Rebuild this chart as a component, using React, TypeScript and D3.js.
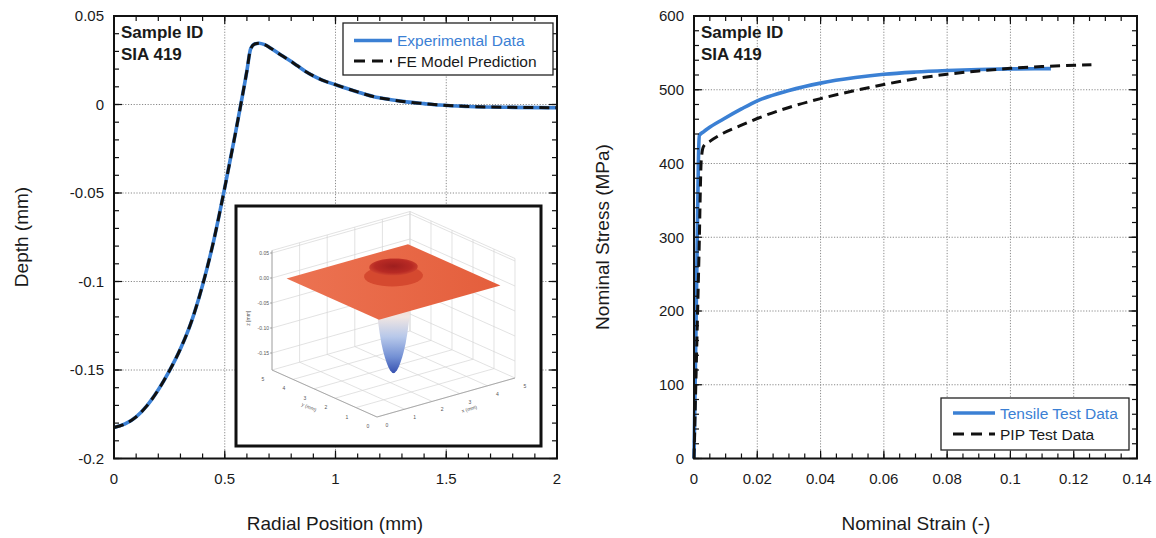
import React from "react";
import * as d3 from "d3";

// ---------- Data ----------
const radialPosition = [0, 0.05, 0.1, 0.15, 0.2, 0.25, 0.3, 0.35, 0.4, 0.45, 0.5, 0.55, 0.6, 0.617, 0.635, 0.655, 0.68, 0.715, 0.75, 0.79, 0.83, 0.865, 0.9, 0.94, 1.0, 1.1, 1.17, 1.25, 1.32, 1.4, 1.47, 1.6, 1.8, 2.0];
const depthExperimental = [-0.1825, -0.1805, -0.1765, -0.17, -0.1612, -0.1505, -0.138, -0.1225, -0.102, -0.077, -0.047, -0.015, 0.019, 0.0315, 0.0342, 0.0346, 0.0338, 0.0312, 0.0283, 0.0251, 0.0217, 0.0187, 0.0162, 0.0138, 0.0112, 0.0071, 0.0045, 0.0027, 0.0015, 0.0005, -0.0003, -0.0011, -0.0016, -0.0018];
const depthFEModel = [-0.1825, -0.1805, -0.1765, -0.17, -0.1612, -0.1505, -0.138, -0.1225, -0.102, -0.077, -0.047, -0.015, 0.019, 0.0315, 0.0342, 0.0346, 0.0338, 0.0312, 0.0283, 0.0251, 0.0217, 0.0187, 0.0162, 0.0138, 0.0112, 0.0071, 0.0045, 0.0027, 0.0015, 0.0005, -0.0003, -0.0011, -0.0016, -0.0018];

const tensileStrain = [0, 0.0005, 0.001, 0.0014, 0.0017, 0.003, 0.0044, 0.0092, 0.015, 0.02, 0.03, 0.04, 0.051, 0.06, 0.07, 0.08, 0.09, 0.1, 0.1128];
const tensileStress = [0, 140, 290, 405, 438, 443, 447.5, 460, 474, 485, 499, 509, 516.5, 521, 524, 526, 527.5, 528.3, 528.6];
const pipStrain = [0, 0.0008, 0.0016, 0.0023, 0.003, 0.005, 0.0092, 0.015, 0.02, 0.03, 0.04, 0.051, 0.06, 0.07, 0.08, 0.09, 0.1, 0.11, 0.1256];
const pipStress = [0, 140, 280, 405, 423, 430, 441, 452, 461, 476, 488, 499, 507, 515, 521, 525.5, 529, 531.5, 534];

const leftXTicks = [0, 0.5, 1, 1.5, 2];
const leftXLabels = ["0", "0.5", "1", "1.5", "2"];
const leftYTicks = [0.05, 0, -0.05, -0.1, -0.15, -0.2];
const leftYLabels = ["0.05", "0", "-0.05", "-0.1", "-0.15", "-0.2"];
const rightXTicks = [0, 0.02, 0.04, 0.06, 0.08, 0.1, 0.12, 0.14];
const rightXLabels = ["0", "0.02", "0.04", "0.06", "0.08", "0.1", "0.12", "0.14"];
const rightYTicks = [0, 100, 200, 300, 400, 500, 600];
const rightYLabels = ["0", "100", "200", "300", "400", "500", "600"];

const insetZTicks = [0.05, 0, -0.05, -0.1, -0.15];
const insetZLabels = ["0.05", "0.00", "-0.05", "-0.10", "-0.15"];
const insetXYTicks = [0, 1, 2, 3, 4, 5];

const sampleLines = ["Sample ID", "SIA 419"];
const leftLegend = ["Experimental Data", "FE Model Prediction"];
const rightLegend = ["Tensile Test Data", "PIP Test Data"];

// ---------- Style ----------
const FONT = "'Liberation Sans', Arial, Helvetica, sans-serif";
const BLUE = "#3b80d4";
const TEXT = "#1a1a1a";

type Scale = d3.ScaleLinear<number, number>;

function Grid({ x, y, xTicks, yTicks }: { x: Scale; y: Scale; xTicks: number[]; yTicks: number[] }) {
  const [xa, xb] = x.range();
  const [ya, yb] = y.range();
  const xd = x.domain();
  const yd = y.domain();
  return (
    <g stroke="#8a8a8a" strokeWidth={1} strokeDasharray="1.2,1.6" fill="none">
      {xTicks.filter((v) => v !== xd[0] && v !== xd[1]).map((v, i) => (
        <line key={"gx" + i} x1={x(v)} x2={x(v)} y1={ya} y2={yb} />
      ))}
      {yTicks.filter((v) => v !== yd[0] && v !== yd[1]).map((v, i) => (
        <line key={"gy" + i} x1={xa} x2={xb} y1={y(v)} y2={y(v)} />
      ))}
    </g>
  );
}

function Frame({
  x, y, xTicks, xLabels, yTicks, yLabels, xMinorStep, yMinorStep,
}: {
  x: Scale; y: Scale; xTicks: number[]; xLabels: string[]; yTicks: number[]; yLabels: string[]; xMinorStep: number; yMinorStep: number;
}) {
  const [xa, xb] = x.range();
  const [ya, yb] = y.range();
  const xd = x.domain();
  const yd = y.domain();
  const yLo = Math.min(yd[0], yd[1]);
  const yHi = Math.max(yd[0], yd[1]);
  const xMinor = d3.range(xd[0], xd[1] + xMinorStep / 2, xMinorStep);
  const yMinor = d3.range(yLo, yHi + yMinorStep / 2, yMinorStep);
  const maj = 8;
  const min = 5;
  return (
    <g>
      <g stroke="#111" strokeWidth={1.2}>
        {xMinor.map((v, i) => (
          <g key={"xm" + i}>
            <line x1={x(v)} x2={x(v)} y1={ya} y2={ya - min} />
            <line x1={x(v)} x2={x(v)} y1={yb} y2={yb + min} />
          </g>
        ))}
        {yMinor.map((v, i) => (
          <g key={"ym" + i}>
            <line x1={xa} x2={xa + min} y1={y(v)} y2={y(v)} />
            <line x1={xb} x2={xb - min} y1={y(v)} y2={y(v)} />
          </g>
        ))}
        {xTicks.map((v, i) => (
          <g key={"xM" + i}>
            <line x1={x(v)} x2={x(v)} y1={ya} y2={ya - maj} />
            <line x1={x(v)} x2={x(v)} y1={yb} y2={yb + maj} />
          </g>
        ))}
        {yTicks.map((v, i) => (
          <g key={"yM" + i}>
            <line x1={xa} x2={xa + maj} y1={y(v)} y2={y(v)} />
            <line x1={xb} x2={xb - maj} y1={y(v)} y2={y(v)} />
          </g>
        ))}
      </g>
      <rect x={xa} y={yb} width={xb - xa} height={ya - yb} fill="none" stroke="#111" strokeWidth={2} />
      <g fontFamily={FONT} fontSize={15} fill={TEXT}>
        {xTicks.map((v, i) => (
          <text key={"xl" + i} x={x(v)} y={484} textAnchor="middle">{xLabels[i]}</text>
        ))}
        {yTicks.map((v, i) => (
          <text key={"yl" + i} x={xa - 10} y={y(v)} dy="0.36em" textAnchor="end">{yLabels[i]}</text>
        ))}
      </g>
    </g>
  );
}

// ---------- Inset: 3-D view of the indentation profile ----------
function Inset() {
  const box = { x: 236, y: 206, w: 305, h: 240 };
  const origin = [377, 417];
  const ex = [27.6, -7.8];
  const ey = [-21, -9.4];
  const zScale = 500;
  const zFloor = -0.184;
  const zTop = 0.055;
  const proj = (px: number, py: number, pz: number): [number, number] => [
    origin[0] + px * ex[0] + py * ey[0],
    origin[1] + px * ex[1] + py * ey[1] - (pz - zFloor) * zScale,
  ];
  const pts = (arr: [number, number][]) => arr.map((p) => p.join(",")).join(" ");
  const gridColor = "#d6d6d6";
  const lines: JSX.Element[] = [];
  insetXYTicks.forEach((v, i) => {
    const a = proj(v, 5, zFloor), b = proj(v, 5, zTop);
    lines.push(<line key={"wl" + i} x1={a[0]} y1={a[1]} x2={b[0]} y2={b[1]} />);
  });
  insetZTicks.concat([zTop]).forEach((z, i) => {
    const a = proj(0, 5, z), b = proj(5, 5, z);
    lines.push(<line key={"wlz" + i} x1={a[0]} y1={a[1]} x2={b[0]} y2={b[1]} />);
  });
  insetXYTicks.forEach((v, i) => {
    const a = proj(5, v, zFloor), b = proj(5, v, zTop);
    lines.push(<line key={"wr" + i} x1={a[0]} y1={a[1]} x2={b[0]} y2={b[1]} />);
  });
  insetZTicks.concat([zTop]).forEach((z, i) => {
    const a = proj(5, 0, z), b = proj(5, 5, z);
    lines.push(<line key={"wrz" + i} x1={a[0]} y1={a[1]} x2={b[0]} y2={b[1]} />);
  });
  insetXYTicks.forEach((v, i) => {
    const a = proj(v, 0, zFloor), b = proj(v, 5, zFloor);
    const c = proj(0, v, zFloor), d = proj(5, v, zFloor);
    lines.push(<line key={"fx" + i} x1={a[0]} y1={a[1]} x2={b[0]} y2={b[1]} />);
    lines.push(<line key={"fy" + i} x1={c[0]} y1={c[1]} x2={d[0]} y2={d[1]} />);
  });

  const s0 = 0.3, s1 = 4.7;
  const plane = [proj(s0, s0, 0), proj(s1, s0, 0), proj(s1, s1, 0), proj(s0, s1, 0)];

  const c = 2.5;
  const centerFloor = proj(c, c, zFloor);
  const halfW = Math.hypot(ex[0], ey[0]);
  const zToY = (z: number) => centerFloor[1] - (z - zFloor) * zScale;
  const cone: [number, number][] = [];
  const inner = radialPosition.map((r, i) => ({ r, d: depthExperimental[i] })).filter((p) => p.d < 0 && p.r < 0.6);
  [...inner].reverse().forEach((p) => cone.push([centerFloor[0] - p.r * halfW, zToY(p.d)]));
  inner.forEach((p) => cone.push([centerFloor[0] + p.r * halfW, zToY(p.d)]));

  const ring = (r: number, z: number) =>
    d3.range(0, 360, 10).map((a) => proj(c + r * Math.cos((a * Math.PI) / 180), c + r * Math.sin((a * Math.PI) / 180), z));

  const axisCorner0 = proj(0, 5, zFloor);
  const axisCorner1 = proj(0, 5, zTop);
  const front = proj(0, 0, zFloor);
  const leftC = proj(0, 5, zFloor);
  const rightC = proj(5, 0, zFloor);

  return (
    <g>
      <defs>
        <linearGradient id="coneGrad" x1="0" y1={zToY(0)} x2="0" y2={zToY(-0.183)} gradientUnits="userSpaceOnUse">
          <stop offset="0" stopColor="#f2b79c" />
          <stop offset="0.38" stopColor="#f1e6e2" />
          <stop offset="0.6" stopColor="#b7c8ea" />
          <stop offset="0.82" stopColor="#7390d4" />
          <stop offset="1" stopColor="#3550b0" />
        </linearGradient>
        <linearGradient id="planeGrad" x1="0" y1="0" x2="1" y2="0">
          <stop offset="0" stopColor="#ec7352" />
          <stop offset="1" stopColor="#e45e3c" />
        </linearGradient>
        <radialGradient id="bumpGrad" cx="0.5" cy="0.45" r="0.55">
          <stop offset="0" stopColor="#9e1e1e" />
          <stop offset="0.7" stopColor="#b82a24" />
          <stop offset="1" stopColor="#d04530" />
        </radialGradient>
        <clipPath id="insetClip">
          <rect x={box.x} y={box.y} width={box.w} height={box.h} />
        </clipPath>
      </defs>
      <rect x={box.x} y={box.y} width={box.w} height={box.h} fill="#fff" />
      <g clipPath="url(#insetClip)">
        <g stroke={gridColor} strokeWidth={0.7}>{lines}</g>
        <g stroke="#9a9a9a" strokeWidth={0.8} fill="none">
          <line x1={axisCorner0[0]} y1={axisCorner0[1]} x2={axisCorner1[0]} y2={axisCorner1[1]} />
          <polyline points={pts([leftC, front, rightC])} />
        </g>
        {insetZTicks.map((z, i) => {
          const p = proj(0, 5, z);
          return (
            <g key={"zt" + i}>
              <line x1={p[0] - 2} x2={p[0]} y1={p[1]} y2={p[1]} stroke="#777" strokeWidth={0.6} />
              <text x={p[0] - 3} y={p[1]} dy="0.35em" textAnchor="end" fontFamily={FONT} fontSize={5} fill="#555">{insetZLabels[i]}</text>
            </g>
          );
        })}
        <text transform={`translate(${axisCorner0[0] - 22},${(axisCorner0[1] + axisCorner1[1]) / 2 + 8}) rotate(-90)`} textAnchor="middle" fontFamily={FONT} fontSize={5} fill="#555">z [mm]</text>
        {insetXYTicks.map((v, i) => {
          const p = proj(0, v, zFloor);
          const q = proj(v, 0, zFloor);
          return (
            <g key={"xy" + i} fontFamily={FONT} fontSize={5} fill="#555" textAnchor="middle">
              <text x={p[0] - 9} y={p[1] + 11}>{v}</text>
              <text x={q[0] + 10} y={q[1] + 10}>{v}</text>
            </g>
          );
        })}
        <text transform={`translate(${proj(0, 2.6, zFloor)[0] - 14},${proj(0, 2.6, zFloor)[1] + 16}) rotate(24)`} textAnchor="middle" fontFamily={FONT} fontSize={5} fill="#555">y (mm)</text>
        <text transform={`translate(${proj(3.0, 0, zFloor)[0] + 10},${proj(3.0, 0, zFloor)[1] + 17}) rotate(-16)`} textAnchor="middle" fontFamily={FONT} fontSize={5} fill="#555">x (mm)</text>

        <polygon points={pts(cone)} fill="url(#coneGrad)" />
        <polygon points={pts(plane)} fill="url(#planeGrad)" />
        <polygon points={pts(ring(0.85, 0.012))} fill="#d5492f" />
        <polygon points={pts(ring(0.7, 0.03))} fill="url(#bumpGrad)" />
      </g>
      <rect x={box.x} y={box.y} width={box.w} height={box.h} fill="none" stroke="#111" strokeWidth={3} />
    </g>
  );
}

function Legend({ x, y, w, h, labels, lineX0, lineX1, textX, row1, row2 }: {
  x: number; y: number; w: number; h: number; labels: string[]; lineX0: number; lineX1: number; textX: number; row1: number; row2: number;
}) {
  return (
    <g>
      <rect x={x} y={y} width={w} height={h} fill="#fff" stroke="#222" strokeWidth={1.3} />
      <line x1={lineX0} x2={lineX1} y1={row1} y2={row1} stroke={BLUE} strokeWidth={3.5} />
      <line x1={lineX0} x2={lineX1} y1={row2} y2={row2} stroke="#111" strokeWidth={3.2} strokeDasharray="11,7" />
      <text x={textX} y={row1} dy="0.36em" fontFamily={FONT} fontSize={15.5} fill={BLUE}>{labels[0]}</text>
      <text x={textX} y={row2} dy="0.36em" fontFamily={FONT} fontSize={15.5} fill={TEXT}>{labels[1]}</text>
    </g>
  );
}

export default function App() {
  const xL = d3.scaleLinear().domain([0, 2]).range([114, 557]);
  const yL = d3.scaleLinear().domain([-0.2, 0.05]).range([458.5, 16]);
  const xR = d3.scaleLinear().domain([0, 0.14]).range([694, 1137]);
  const yR = d3.scaleLinear().domain([0, 600]).range([458.5, 16]);

  const lineL = d3.line<number>().x((_, i) => xL(radialPosition[i])).curve(d3.curveMonotoneX);
  const expPath = lineL.y((d) => yL(d))(depthExperimental) || "";
  const fePath = lineL.y((d) => yL(d))(depthFEModel) || "";

  const tensilePath = d3.line<number>().x((_, i) => xR(tensileStrain[i])).y((d) => yR(d)).curve(d3.curveMonotoneX)(tensileStress) || "";
  const pipPath = d3.line<number>().x((_, i) => xR(pipStrain[i])).y((d) => yR(d)).curve(d3.curveMonotoneX)(pipStress) || "";

  return (
    <svg width={1156} height={538} style={{ position: "absolute", left: 0, top: 0, background: "#fff" }}>
      <rect width={1156} height={538} fill="#fff" />
      {/* Left panel */}
      <Grid x={xL} y={yL} xTicks={leftXTicks} yTicks={leftYTicks} />
      <path d={expPath} fill="none" stroke={BLUE} strokeWidth={3.6} />
      <path d={fePath} fill="none" stroke="#111" strokeWidth={3} strokeDasharray="10,6" />
      <Inset />
      <Frame x={xL} y={yL} xTicks={leftXTicks} xLabels={leftXLabels} yTicks={leftYTicks} yLabels={leftYLabels} xMinorStep={0.1} yMinorStep={0.01} />
      <g fontFamily={FONT} fontSize={17} fontWeight="bold" fill={TEXT}>
        <text x={121} y={38}>{sampleLines[0]}</text>
        <text x={121} y={60}>{sampleLines[1]}</text>
      </g>
      <Legend x={343} y={23} w={210} h={52} labels={leftLegend} lineX0={354} lineX1={392} textX={397} row1={40.5} row2={61} />
      <text x={335} y={530} textAnchor="middle" fontFamily={FONT} fontSize={19} fill={TEXT}>Radial Position (mm)</text>
      <text transform="translate(28,237) rotate(-90)" textAnchor="middle" fontFamily={FONT} fontSize={19} fill={TEXT}>Depth (mm)</text>

      {/* Right panel */}
      <Grid x={xR} y={yR} xTicks={rightXTicks} yTicks={rightYTicks} />
      <path d={tensilePath} fill="none" stroke={BLUE} strokeWidth={3.6} />
      <path d={pipPath} fill="none" stroke="#111" strokeWidth={3} strokeDasharray="10,6" />
      <Frame x={xR} y={yR} xTicks={rightXTicks} xLabels={rightXLabels} yTicks={rightYTicks} yLabels={rightYLabels} xMinorStep={0.005} yMinorStep={20} />
      <g fontFamily={FONT} fontSize={17} fontWeight="bold" fill={TEXT}>
        <text x={701} y={38}>{sampleLines[0]}</text>
        <text x={701} y={60}>{sampleLines[1]}</text>
      </g>
      <Legend x={941} y={398} w={188} h={52} labels={rightLegend} lineX0={953} lineX1={995} textX={1000} row1={413} row2={434} />
      <text x={916} y={530} textAnchor="middle" fontFamily={FONT} fontSize={19} fill={TEXT}>Nominal Strain (-)</text>
      <text transform="translate(609,237) rotate(-90)" textAnchor="middle" fontFamily={FONT} fontSize={19} fill={TEXT}>Nominal Stress (MPa)</text>
    </svg>
  );
}
